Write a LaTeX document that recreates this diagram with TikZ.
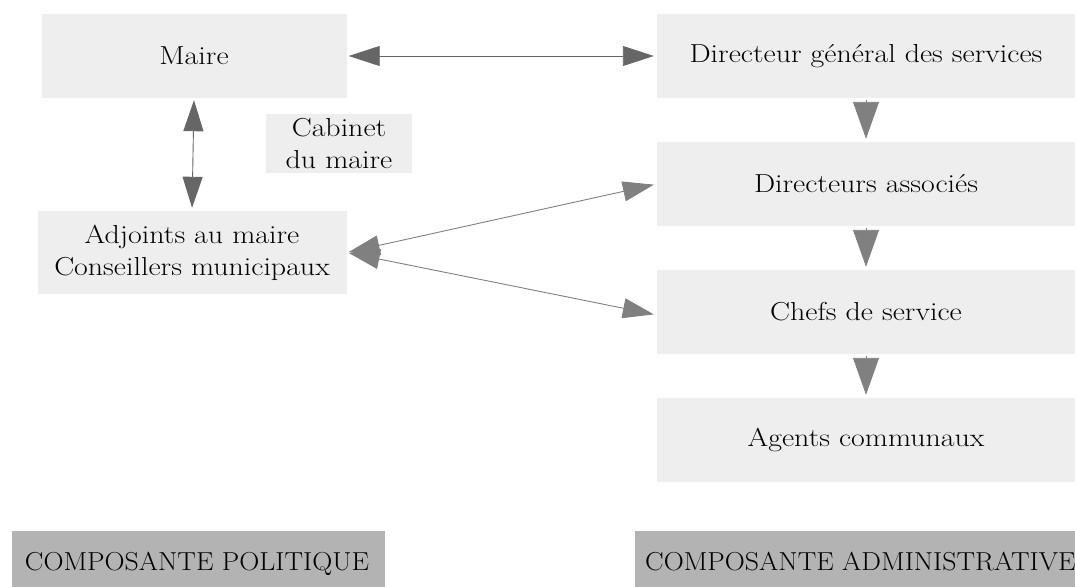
\documentclass[tikz,border=0pt]{standalone}
\usepackage{fontspec}
\setmainfont{Latin Modern Roman}[FakeStretch=1.15]
\newfontfamily\labfont{Latin Modern Roman}[FakeStretch=1.07]
\usetikzlibrary{arrows.meta}
\definecolor{boxfill}{HTML}{EEEEEE}
\definecolor{labfill}{HTML}{B3B3B3}
\definecolor{arrdark}{HTML}{666666}
\definecolor{arrlight}{HTML}{808080}
\begin{document}
\begin{tikzpicture}[x=1pt,y=-1pt,
  box/.style={fill=boxfill, inner sep=0pt, align=center, font=\fontsize{26}{32}\selectfont},
  lab/.style={fill=labfill, inner sep=0pt},
  labtext/.style={inner sep=0pt, font=\labfont\fontsize{26}{32}\selectfont},
  dark/.style={draw=arrdark, line width=0.9pt, {Triangle[length=31pt,width=20pt]}-{Triangle[length=31pt,width=20pt]}, arrdark},
  light/.style={draw=arrlight, line width=0.9pt, {Triangle[length=31pt,width=20pt]}-{Triangle[length=31pt,width=20pt]}, arrlight},
  down/.style={draw=arrlight, line width=0.9pt, -{Triangle[length=37pt,width=26pt]}, arrlight}]
\useasboundingbox (0,0) rectangle (1075,586);
\begin{scope}
\clip (0,0) rectangle (1075,586);
\node[box, minimum width=305pt, minimum height=84pt] (maire) at (194,56) {Maire};
\node[box, minimum width=146pt, minimum height=59pt] (cab) at (339,143.5) {Cabinet\\du maire};
\node[box, minimum width=309pt, minimum height=83pt] (adj) at (192,252.5) {Adjoints au maire\\Conseillers municipaux};
\node[box, minimum width=418pt, minimum height=84pt] (dgs) at (866,56) {Directeur général des services};
\node[box, minimum width=418pt, minimum height=84pt] (da) at (866,184) {Directeurs associés};
\node[box, minimum width=418pt, minimum height=84pt] (cs) at (866,312) {Chefs de service};
\node[box, minimum width=418pt, minimum height=84pt] (ac) at (866,440) {Agents communaux};
\node[lab, minimum width=373pt, minimum height=60pt, anchor=north west] (pol) at (12,531) {};
\node[lab, minimum width=440pt, minimum height=60pt, anchor=north west] (adm) at (635,531) {};
\node[labtext, anchor=base] (polt) at (197,570) {COMPOSANTE POLITIQUE};
\node[labtext, anchor=base west] (admt) at (645,570) {COMPOSANTE ADMINISTRATIVE};
\end{scope}
\draw[dark, shorten <=2pt, shorten >=3pt] (maire.east) -- (dgs.west);
\draw[dark, shorten <=2pt, shorten >=3pt] (maire.south) -- (adj.north);
\draw[light, shorten <=2pt, shorten >=3pt] (adj.east) -- (da.west);
\draw[light, shorten <=2pt, shorten >=3pt] (adj.east) -- ([yshift=-3pt]cs.west);
\draw[down, shorten <=2pt, shorten >=3pt] (dgs.south) -- (da.north);
\draw[down, shorten <=2pt, shorten >=3pt] (da.south) -- (cs.north);
\draw[down, shorten <=2pt, shorten >=3pt] (cs.south) -- (ac.north);
\end{tikzpicture}
\end{document}
